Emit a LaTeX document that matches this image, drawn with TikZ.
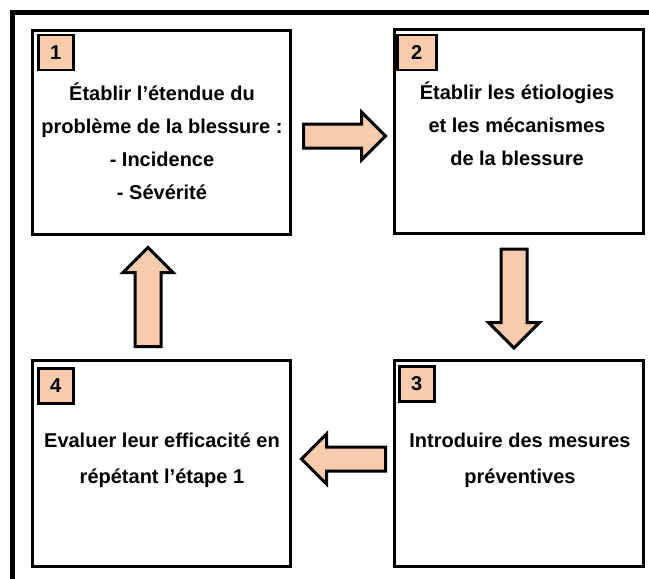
\documentclass[tikz,border=0pt]{standalone}
\usepackage{fontspec}
\setmainfont{Liberation Sans}
\usetikzlibrary{calc,shapes.arrows}
\definecolor{peach}{HTML}{F8CBAD}

\begin{document}
\begin{tikzpicture}[x=1pt,y=-1pt,
  box node/.style={draw,line width=3pt,minimum width=258pt,minimum height=204pt,inner sep=0pt},
  num node/.style={draw,line width=2.5pt,fill=peach,anchor=north west,minimum width=35pt,minimum height=35pt,inner sep=0pt,font=\fontsize{20}{24}\bfseries},
  text node/.style={align=center,inner sep=0pt,font=\fontsize{20}{33}\bfseries},
  big arrow/.style={single arrow,draw,line width=3pt,fill=peach,anchor=tail,inner xsep=0pt,inner ysep=10.5pt,single arrow head extend=12pt}]

\clip (0,0) rectangle (649,579);
\useasboundingbox (0,0) rectangle (649,579);
\draw[line width=5pt] (660,12.5) -- (12,12.5) -- (12,590);

% the four steps
\node[box node] (B1) at (161.5,132) {};
\node[box node,minimum width=249pt] (B2) at (519,131) {};
\node[box node,minimum width=249pt,minimum height=206pt] (B3) at (519,463.5) {};
\node[box node,minimum height=206pt] (B4) at (161.5,463.5) {};

\node[num node] (N1) at ($(B1.north west)+(6,5)$) {1};
\node[num node,minimum width=39pt] (N2) at ($(B2.north west)+(3,6)$) {2};
\node[num node] (N3) at ($(B3.north west)+(5,6)$) {3};
\node[num node] (N4) at ($(B4.north west)+(6,8)$) {4};

\node[text node] (T1) at ($(B1.center)+(0.5,9.5)$) {Établir l’étendue du\\problème de la blessure :\\- Incidence\\- Sévérité};
\node[text node] (T2) at ($(B2.center)+(-2,-7)$) {Établir les étiologies\\et les mécanismes\\de la blessure};
\node[text node,font=\fontsize{20}{36}\bfseries] (T3) at ($(B3.center)+(1,-3.5)$) {Introduire des mesures\\préventives};
\node[text node,font=\fontsize{20}{36}\bfseries] (T4) at ($(B4.center)+(0.5,-3.5)$) {Evaluer leur efficacité en\\répétant l’étape 1};

% block arrows between steps
\node[big arrow,minimum height=82pt] (A12) at ($(B1.east)+(10,4)$) {};
\node[big arrow,rotate=270,minimum height=99pt,inner ysep=11.5pt,single arrow head extend=12.5pt] (A23) at ($(B2.south)+(-5,13)$) {};
\node[big arrow,rotate=180,minimum height=84pt,single arrow head extend=13pt] (A34) at ($(B3.west)+(-6,-4.5)$) {};
\node[big arrow,rotate=90,minimum height=99pt,inner ysep=11.5pt] (A41) at ($(B4.north)+(-13.5,-11)$) {};
\end{tikzpicture}
\end{document}
